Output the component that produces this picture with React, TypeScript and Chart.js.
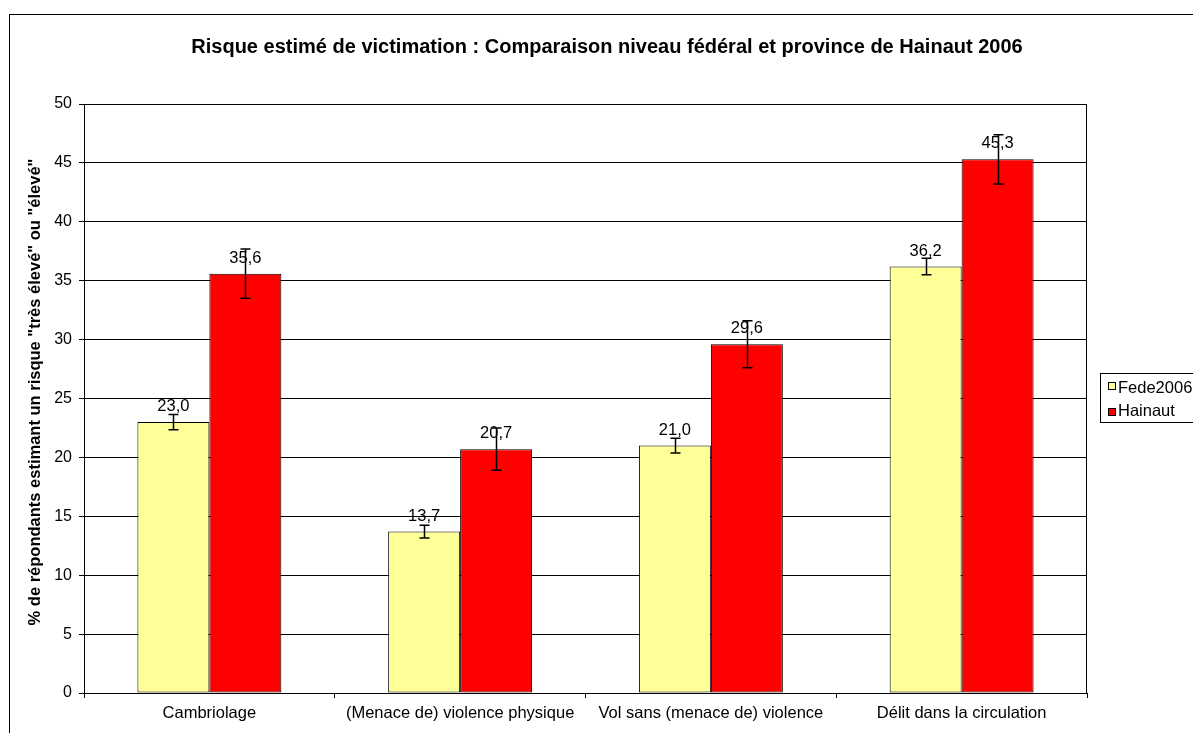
import React, { useEffect, useRef } from 'react';
import { Chart, registerables } from 'chart.js';

Chart.register(...registerables);

const categories = [
  'Cambriolage',
  '(Menace de) violence physique',
  'Vol sans (menace de) violence',
  'Délit dans la circulation',
];
const seriesNames = ['Fede2006', 'Hainaut'];
const fedeValues = [23.0, 13.7, 21.0, 36.2];
const hainautValues = [35.6, 20.7, 29.6, 45.3];
const fedeErrors = [0.65, 0.55, 0.62, 0.7];
const hainautErrors = [2.1, 1.8, 2.0, 2.1];
const yTicksMin = 0;
const yTicksMax = 50;
const yTickStep = 5;
const chartTitle =
  'Risque estimé de victimation : Comparaison niveau fédéral et province de Hainaut 2006';
const yAxisTitle = '% de répondants estimant un risque "très élevé" ou "élevé"';

const FONT = 'Arial, "Liberation Sans", sans-serif';
const COLORS = ['#FFFF99', '#FF0000'];
const errorsBySeries = [fedeErrors, hainautErrors];

const decor = {
  id: 'decor',
  beforeDraw(chart: any) {
    const ctx = chart.ctx;
    ctx.save();
    ctx.fillStyle = '#ffffff';
    ctx.fillRect(0, 0, chart.width, chart.height);
    ctx.strokeStyle = '#000';
    ctx.lineWidth = 1;
    ctx.strokeRect(9.5, 14.5, chart.width + 50, chart.height + 50);
    ctx.fillStyle = '#000';
    ctx.font = `bold 20px ${FONT}`;
    ctx.textAlign = 'center';
    ctx.textBaseline = 'alphabetic';
    ctx.fillText(chartTitle, 607, 53);
    // y axis title
    ctx.save();
    ctx.translate(40, 392);
    ctx.rotate(-Math.PI / 2);
    ctx.font = `bold 16.5px ${FONT}`;
    ctx.textAlign = 'center';
    ctx.textBaseline = 'alphabetic';
    ctx.fillText(yAxisTitle, 0, 0);
    ctx.restore();
    ctx.restore();
  },
  afterDatasetsDraw(chart: any) {
    const ctx = chart.ctx;
    const ys = chart.scales.y;
    const ca = chart.chartArea;
    ctx.save();
    // plot border
    ctx.strokeStyle = '#000';
    ctx.lineWidth = 1;
    ctx.strokeRect(
      Math.round(ca.left) + 0.5,
      Math.round(ca.top) + 0.5,
      Math.round(ca.right - ca.left) - 1,
      Math.round(ca.bottom - ca.top)
    );
    // value labels
    ctx.fillStyle = '#000';
    ctx.font = `16.5px ${FONT}`;
    ctx.textAlign = 'center';
    ctx.textBaseline = 'alphabetic';
    chart.data.datasets.forEach((ds: any, i: number) => {
      const meta = chart.getDatasetMeta(i);
      meta.data.forEach((bar: any, j: number) => {
        const v = ds.data[j];
        ctx.fillText(v.toFixed(1).replace('.', ','), bar.x, bar.y - 11);
      });
    });
    // error bars
    ctx.strokeStyle = '#000';
    ctx.lineWidth = 1.5;
    chart.data.datasets.forEach((ds: any, i: number) => {
      const meta = chart.getDatasetMeta(i);
      const errs = errorsBySeries[i];
      meta.data.forEach((bar: any, j: number) => {
        const v = ds.data[j];
        const e = errs[j];
        const yTop = ys.getPixelForValue(v + e);
        const yBot = ys.getPixelForValue(v - e);
        const x = Math.round(bar.x) + 0.5;
        ctx.beginPath();
        ctx.moveTo(x, yTop);
        ctx.lineTo(x, yBot);
        ctx.moveTo(x - 5, yTop);
        ctx.lineTo(x + 5, yTop);
        ctx.moveTo(x - 5, yBot);
        ctx.lineTo(x + 5, yBot);
        ctx.stroke();
      });
    });
    ctx.restore();
  },
  afterDraw(chart: any) {
    const ctx = chart.ctx;
    ctx.save();
    ctx.strokeStyle = '#000';
    ctx.lineWidth = 1;
    ctx.strokeRect(1100.5, 373.5, 200, 49);
    const rows = [
      { sq: 382, base: 393 },
      { sq: 408, base: 416 },
    ];
    ctx.font = `16.5px ${FONT}`;
    ctx.textAlign = 'left';
    ctx.textBaseline = 'alphabetic';
    seriesNames.forEach((name, i) => {
      const r = rows[i];
      ctx.fillStyle = COLORS[i];
      ctx.fillRect(1108, r.sq, 8, 8);
      ctx.strokeStyle = '#000';
      ctx.strokeRect(1108.5, r.sq + 0.5, 7, 7);
      ctx.fillStyle = '#000';
      ctx.fillText(name, 1118, r.base);
    });
    ctx.restore();
  },
};

export default function App() {
  const canvasRef = useRef<HTMLCanvasElement | null>(null);

  useEffect(() => {
    if (!canvasRef.current) return;
    const chart = new Chart(canvasRef.current, {
      type: 'bar',
      data: {
        labels: categories,
        datasets: [
          {
            label: seriesNames[0],
            data: fedeValues,
            backgroundColor: COLORS[0],
            borderColor: '#000',
            borderWidth: 1,
            borderSkipped: false,
            categoryPercentage: 0.574,
            barPercentage: 1,
          },
          {
            label: seriesNames[1],
            data: hainautValues,
            backgroundColor: COLORS[1],
            borderColor: '#000',
            borderWidth: 1,
            borderSkipped: false,
            categoryPercentage: 0.574,
            barPercentage: 1,
          },
        ],
      },
      options: {
        responsive: false,
        animation: false,
        devicePixelRatio: 1,
        layout: { padding: { left: 0, top: 104, right: 106, bottom: 0 } },
        plugins: {
          legend: { display: false },
          tooltip: { enabled: false },
          title: { display: false },
        },
        scales: {
          x: {
            grid: { offset: true, drawOnChartArea: false, tickLength: 5, color: '#000' },
            border: { color: '#000' },
            ticks: {
              color: '#000',
              font: { size: 16.5, family: FONT },
              padding: 6,
              maxRotation: 0,
              autoSkip: false,
            },
            afterFit(scale: any) {
              scale.height = 40;
            },
          },
          y: {
            min: yTicksMin,
            max: yTicksMax,
            ticks: {
              stepSize: yTickStep,
              color: '#000',
              font: { size: 16, family: FONT },
              padding: 7,
            },
            grid: { color: '#000', tickLength: 5, lineWidth: 1 },
            border: { color: '#000' },
            title: { display: false },
            afterFit(scale: any) {
              scale.width = 84;
            },
          },
        },
      },
      plugins: [decor],
    } as any);
    return () => chart.destroy();
  }, []);

  return (
    <div style={{ position: 'absolute', left: 0, top: 0, width: 1193, height: 733, overflow: 'hidden' }}>
      <canvas ref={canvasRef} width={1193} height={733} style={{ display: 'block' }} />
    </div>
  );
}
